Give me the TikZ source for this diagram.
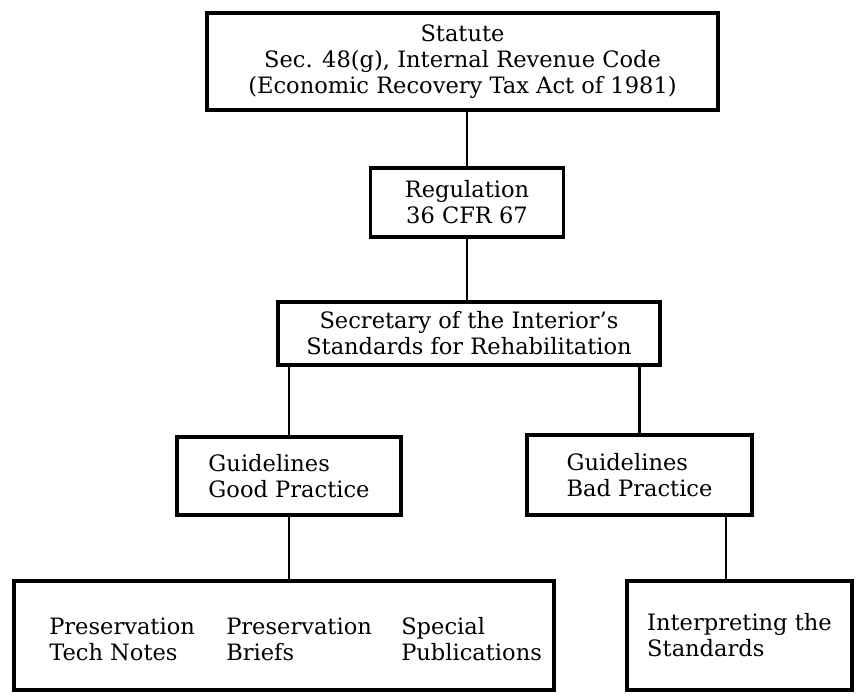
\documentclass[tikz,border=0pt]{standalone}
\usepackage{fontspec}
\setmainfont{DejaVu Serif}
\usetikzlibrary{positioning,calc}

\begin{document}
\begin{tikzpicture}[
  font=\fontsize{16.3}{18.9}\selectfont,
  lawbox/.style={draw=black, line width=2.4pt, inner sep=0pt, align=center},
  link/.style={line width=1.5pt, draw=black}
]

  % Page frame
  \useasboundingbox (0,0) rectangle (8.58in,-6.98in);

  % Row 1: Statute
  \node[lawbox, minimum width=5.11in, minimum height=0.97in] (statute) at (4.625in,-0.615in) {Statute\\Sec. 48(g), Internal Revenue Code\\(Economic Recovery Tax Act of 1981)};

  % Row 2: Regulation
  \node[lawbox, minimum width=1.93in, minimum height=0.69in] (regulation) at (4.67in,-2.025in) {Regulation\\36 CFR 67};

  % Row 3: Standards
  \node[lawbox, minimum width=3.82in, minimum height=0.63in] (standards) at (4.69in,-3.335in) {Secretary of the Interior's\\Standards for Rehabilitation};

  % Row 4: Guidelines
  \node[lawbox, align=left, minimum width=2.24in, minimum height=0.78in] (goodpractice) at (2.89in,-4.76in) {Guidelines\\Good Practice};
  \node[lawbox, align=left, minimum width=2.25in, minimum height=0.80in] (badpractice) at (6.395in,-4.75in) {Guidelines\\Bad Practice};

  % Row 5: Publications
  \node[lawbox, minimum width=5.40in, minimum height=1.09in] (publications) at (2.84in,-6.355in) {};
  \node[anchor=west, align=left, inner sep=0pt] (technotes) at (0.49in,-6.39in) {Preservation\\Tech Notes};
  \node[anchor=west, align=left, inner sep=0pt] (briefs) at (2.26in,-6.39in) {Preservation\\Briefs};
  \node[anchor=west, align=left, inner sep=0pt] (special) at (4.01in,-6.39in) {Special\\Publications};

  \node[lawbox, align=left, minimum width=2.25in, minimum height=1.09in] (interpreting) at (7.395in,-6.355in) {Interpreting the\\Standards};

  % Connectors
  \draw[link] (statute.south -| regulation.north) -- (regulation.north);
  \draw[link] (regulation.south) -- (regulation.south |- standards.north);
  \draw[link] (goodpractice.north |- standards.south) -- (goodpractice.north);
  \draw[link] (badpractice.north |- standards.south) -- (badpractice.north);
  \draw[link] (goodpractice.south) -- (goodpractice.south |- publications.north);
  \draw[link] ([xshift=-0.135in]interpreting.north |- badpractice.south) -- ([xshift=-0.135in]interpreting.north);

\end{tikzpicture}
\end{document}
